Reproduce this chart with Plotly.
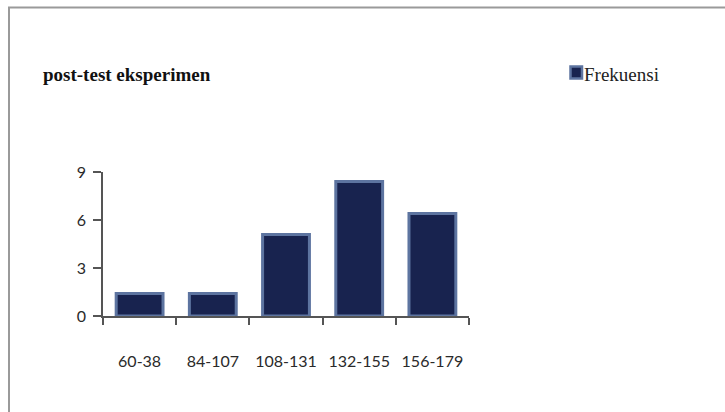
import plotly.graph_objects as go

# Frequency distribution of post-test scores (experimental group)
categories = ["60-38", "84-107", "108-131", "132-155", "156-179"]
frekuensi = [1.4, 1.4, 5.1, 8.4, 6.4]
y_ticks = [0, 3, 6, 9]

W, H = 725, 412
ML, MR, MT, MB = 103, 256, 172, 96
PW, PH = W - ML - MR, H - MT - MB


def px_x(x):
    """Convert a pixel column to paper x."""
    return (x - ML) / PW


def px_y(y):
    """Convert a pixel row (from the top) to paper y."""
    return (H - MB - y) / PH


BAR_FILL = "#18234f"
BAR_EDGE = "#5d74a0"
AXIS = "#555555"

fig = go.Figure(
    go.Bar(
        x=categories,
        y=frekuensi,
        name="Frekuensi",
        width=0.64,
        marker=dict(color=BAR_FILL, line=dict(color=BAR_EDGE, width=3)),
        showlegend=False,
    )
)

fig.update_layout(
    width=W,
    height=H,
    margin=dict(l=ML, r=MR, t=MT, b=MB),
    paper_bgcolor="white",
    plot_bgcolor="white",
    font=dict(family="Lato", size=16, color="#2a2a2a"),
    xaxis=dict(
        type="category",
        range=[-0.5, 4.5],
        showline=True,
        linecolor=AXIS,
        linewidth=1.5,
        ticks="outside",
        tickson="boundaries",
        ticklen=7,
        tickcolor=AXIS,
        tickwidth=1.5,
        ticklabelstandoff=30,
        showgrid=False,
        zeroline=False,
    ),
    yaxis=dict(
        range=[0, 9],
        tickvals=y_ticks,
        showline=True,
        linecolor=AXIS,
        linewidth=1.5,
        ticks="outside",
        ticklen=8,
        tickcolor=AXIS,
        tickwidth=1.5,
        ticklabelstandoff=4,
        showgrid=False,
        zeroline=False,
    ),
)

# Outer frame: top and left edges
fig.add_shape(type="line", xref="paper", yref="paper",
              x0=px_x(8), x1=px_x(W + 5), y0=px_y(7.5), y1=px_y(7.5),
              line=dict(color="#9a9a9a", width=2))
fig.add_shape(type="line", xref="paper", yref="paper",
              x0=px_x(9), x1=px_x(9), y0=px_y(7), y1=px_y(H + 5),
              line=dict(color="#9a9a9a", width=2))

# Chart title
fig.add_annotation(
    text="<b>post-test eksperimen</b>", xref="paper", yref="paper",
    x=px_x(41), y=px_y(74), xanchor="left", yanchor="middle",
    showarrow=False,
    font=dict(family="Liberation Serif", size=19, color="#111111"),
)

# Legend entry
fig.add_shape(type="rect", xref="paper", yref="paper",
              x0=px_x(570.5), x1=px_x(582), y0=px_y(66.5), y1=px_y(78.5),
              fillcolor=BAR_FILL, line=dict(color=BAR_EDGE, width=2.5))
fig.add_annotation(
    text="Frekuensi", xref="paper", yref="paper",
    x=px_x(582), y=px_y(74), xanchor="left", yanchor="middle",
    showarrow=False,
    font=dict(family="Liberation Serif", size=19, color="#222222"),
)

fig.write_html("out.html")
